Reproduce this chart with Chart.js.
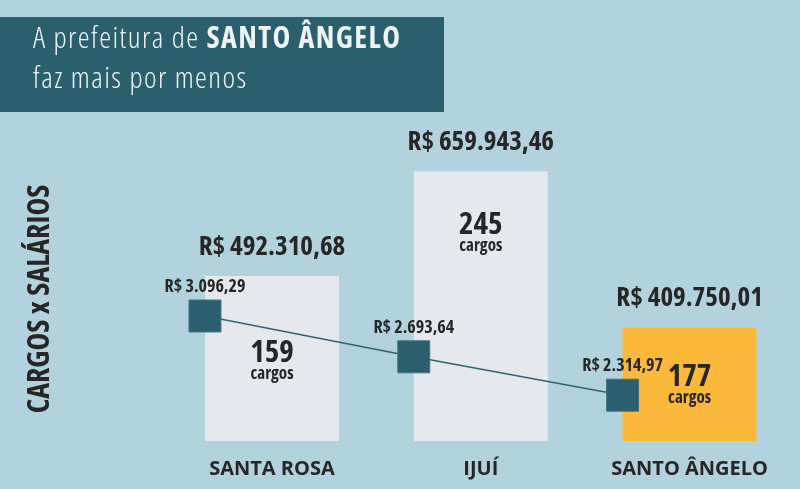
<!DOCTYPE html>
<html lang="pt-BR">
<head>
<meta charset="utf-8">
<script src="https://cdn.jsdelivr.net/npm/chart.js@4.4.1/dist/chart.umd.min.js"></script>
<style>
  html, body { margin: 0; padding: 0; background: #b2d2de; }
  #wrap { position: relative; width: 800px; height: 489px; overflow: hidden; }
  #title {
    position: absolute; left: 0; top: 17px; width: 444px; height: 95px;
    box-sizing: border-box; padding: 0 0 0 33px; white-space: nowrap;
    background: #2b5f6d; color: #eef3f4;
    font-family: 'Open Sans', sans-serif; font-stretch: condensed;
    font-weight: 300; font-size: 30px; line-height: 40px; letter-spacing: 1.4px;
  }
  #title b { font-weight: 700; }
  canvas { position: absolute; left: 0; top: 0; }
</style>
</head>
<body>
<div id="wrap">
  <canvas id="chart" width="800" height="489"></canvas>
  <div id="title">A prefeitura de <b>SANTO ÂNGELO</b><br>faz mais por menos</div>
</div>
<script>
const cities = ['SANTA ROSA', 'IJUÍ', 'SANTO ÂNGELO'];
const payroll = [492310.68, 659943.46, 409750.01];  // folha total, R$
const positions = [159, 245, 177];                // cargos
const avgSalary = [3096.29, 2693.64, 2314.97];     // salário médio, R$

const FONT = "'Open Sans', 'Liberation Sans Narrow', sans-serif";
const barPct = 0.642;
const countPos = [0.47, 0.2, 0.44]; // where the "cargos" number sits inside each bar (from top)

const fmt = new Intl.NumberFormat('pt-BR', { minimumFractionDigits: 2, maximumFractionDigits: 2 });
const money = v => 'R$ ' + fmt.format(v);

function setFont(ctx, size) {
  ctx.font = `bold ${size}px ${FONT}`;
  ctx.font = `condensed bold ${size}px ${FONT}`;
  if ('fontStretch' in ctx) ctx.fontStretch = 'condensed';
}

const labelsPlugin = {
  id: 'labels',
  afterDatasetsDraw(chart) {
    const ctx = chart.ctx;
    const bottom = chart.chartArea.bottom;
    const pts = chart.getDatasetMeta(0).data;
    const bars = chart.getDatasetMeta(1).data;
    ctx.save();
    ctx.fillStyle = '#262626';
    ctx.textAlign = 'center';
    ctx.textBaseline = 'middle';
    bars.forEach((bar, i) => {
      setFont(ctx, 27);
      ctx.fillText(money(payroll[i]), bar.x, bar.y - 29);
      const base = Math.min(bar.base, bottom);
      const cy = bar.y + (base - bar.y) * countPos[i];
      setFont(ctx, 31);
      ctx.fillText(String(positions[i]), bar.x, cy);
      setFont(ctx, 17);
      ctx.fillText('cargos', bar.x, cy + 21);
    });
    pts.forEach((p, i) => {
      setFont(ctx, 18);
      ctx.fillText(money(avgSalary[i]), p.x, p.y - 29);
    });
    ctx.restore();
  }
};

const ctx = document.getElementById('chart').getContext('2d');
new Chart(ctx, {
  data: {
    labels: cities,
    datasets: [
      {
        type: 'line',
        data: avgSalary.map((v, i) => ({ x: i - barPct / 2, y: v })),
        xAxisID: 'xl',
        yAxisID: 'ys',
        borderColor: '#2f6474',
        borderWidth: 1.5,
        pointStyle: 'rect',
        pointRadius: 22.6,
        pointBackgroundColor: '#2b5f6d',
        pointBorderColor: '#3e7383',
        pointBorderWidth: 1,
        clip: false,
        order: 0
      },
      {
        type: 'bar',
        data: payroll,
        xAxisID: 'x',
        yAxisID: 'y',
        grouped: false,
        backgroundColor: ['#e5e8ec', '#e5e8ec', '#fbb93b'],
        categoryPercentage: 1,
        barPercentage: barPct,
        order: 1
      }
    ]
  },
  options: {
    responsive: false,
    animation: false,
    layout: { autoPadding: false, padding: { top: 157, right: 6, bottom: 0, left: 0 } },
    plugins: { legend: { display: false }, tooltip: { enabled: false } },
    scales: {
      x: {
        type: 'category',
        grid: { display: false },
        border: { display: false },
        ticks: { color: '#262626', padding: 8, font: { family: FONT, weight: 'bold', size: 20 } },
        afterFit: s => { s.height = 48; s.paddingLeft = 0; s.paddingRight = 0; }
      },
      xl: { type: 'linear', display: false, min: -0.5, max: 2.5 },
      y: {
        min: 228150,
        max: 682900,
        grid: { display: false },
        border: { display: false },
        ticks: { display: false },
        title: {
          display: true,
          text: 'CARGOS x SALÁRIOS',
          color: '#262626',
          font: { family: FONT, weight: 'condensed bold', size: 30 },
          padding: { top: 22, bottom: 0 }
        },
        afterFit: s => { s.width = 167.6; }
      },
      ys: { display: false, min: 1863, max: 4665 }
    }
  },
  plugins: [labelsPlugin]
});
</script>
</body>
</html>
